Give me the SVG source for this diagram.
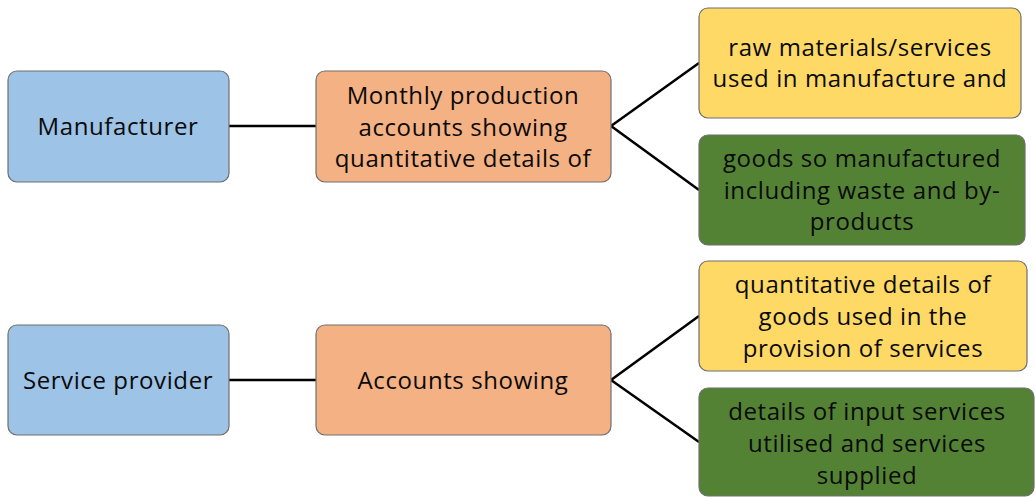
<svg xmlns="http://www.w3.org/2000/svg" width="1035" height="497" viewBox="0 0 1035 497">
<style>
.box{stroke:#6f6f6f;stroke-width:1.2}
.blue{fill:#9DC3E6}.orange{fill:#F4B183}.yellow{fill:#FFD966}.green{fill:#548235}
text{font-family:"Open Sans","Liberation Sans",sans-serif;font-size:24px;letter-spacing:0.6px;fill:#0a0a0a;text-anchor:middle}
.conn line{stroke:#000;stroke-width:2.5}
</style>
<rect width="1035" height="497" fill="#fff"/>
<g class="conn">
<line x1="229" y1="126" x2="316" y2="126"/>
<line x1="611" y1="126" x2="699" y2="63"/>
<line x1="611" y1="126" x2="699" y2="190"/>
<line x1="229" y1="380" x2="316" y2="380"/>
<line x1="611" y1="380" x2="699" y2="316"/>
<line x1="611" y1="380" x2="699" y2="442"/>
</g>
<g id="manufacturer"><rect class="box blue" x="8" y="71" width="221" height="111" rx="9"/><text x="118" y="135">Manufacturer</text></g>
<g id="monthly"><rect class="box orange" x="316" y="71" width="295" height="111" rx="9"/><text x="463" y="104">Monthly production</text><text x="463" y="136">accounts showing</text><text x="463" y="167">quantitative details of</text></g>
<g id="raw"><rect class="box yellow" x="699" y="8" width="322" height="110" rx="9"/><text x="860" y="56">raw materials/services</text><text x="860" y="87">used in manufacture and</text></g>
<g id="goods"><rect class="box green" x="699" y="135" width="326" height="110" rx="9"/><text x="862" y="167">goods so manufactured</text><text x="862" y="199">including waste and by-</text><text x="862" y="230">products</text></g>
<g id="service"><rect class="box blue" x="8" y="325" width="221" height="110" rx="9"/><text x="118" y="389">Service provider</text></g>
<g id="accounts"><rect class="box orange" x="316" y="325" width="295" height="110" rx="9"/><text x="463" y="389">Accounts showing</text></g>
<g id="quant"><rect class="box yellow" x="699" y="261" width="328" height="110" rx="9"/><text x="863" y="293">quantitative details of</text><text x="863" y="325">goods used in the</text><text x="863" y="357">provision of services</text></g>
<g id="input"><rect class="box green" x="699" y="388" width="335" height="108" rx="9"/><text x="867" y="420">details of input services</text><text x="867" y="452">utilised and services</text><text x="867" y="484">supplied</text></g>
</svg>
